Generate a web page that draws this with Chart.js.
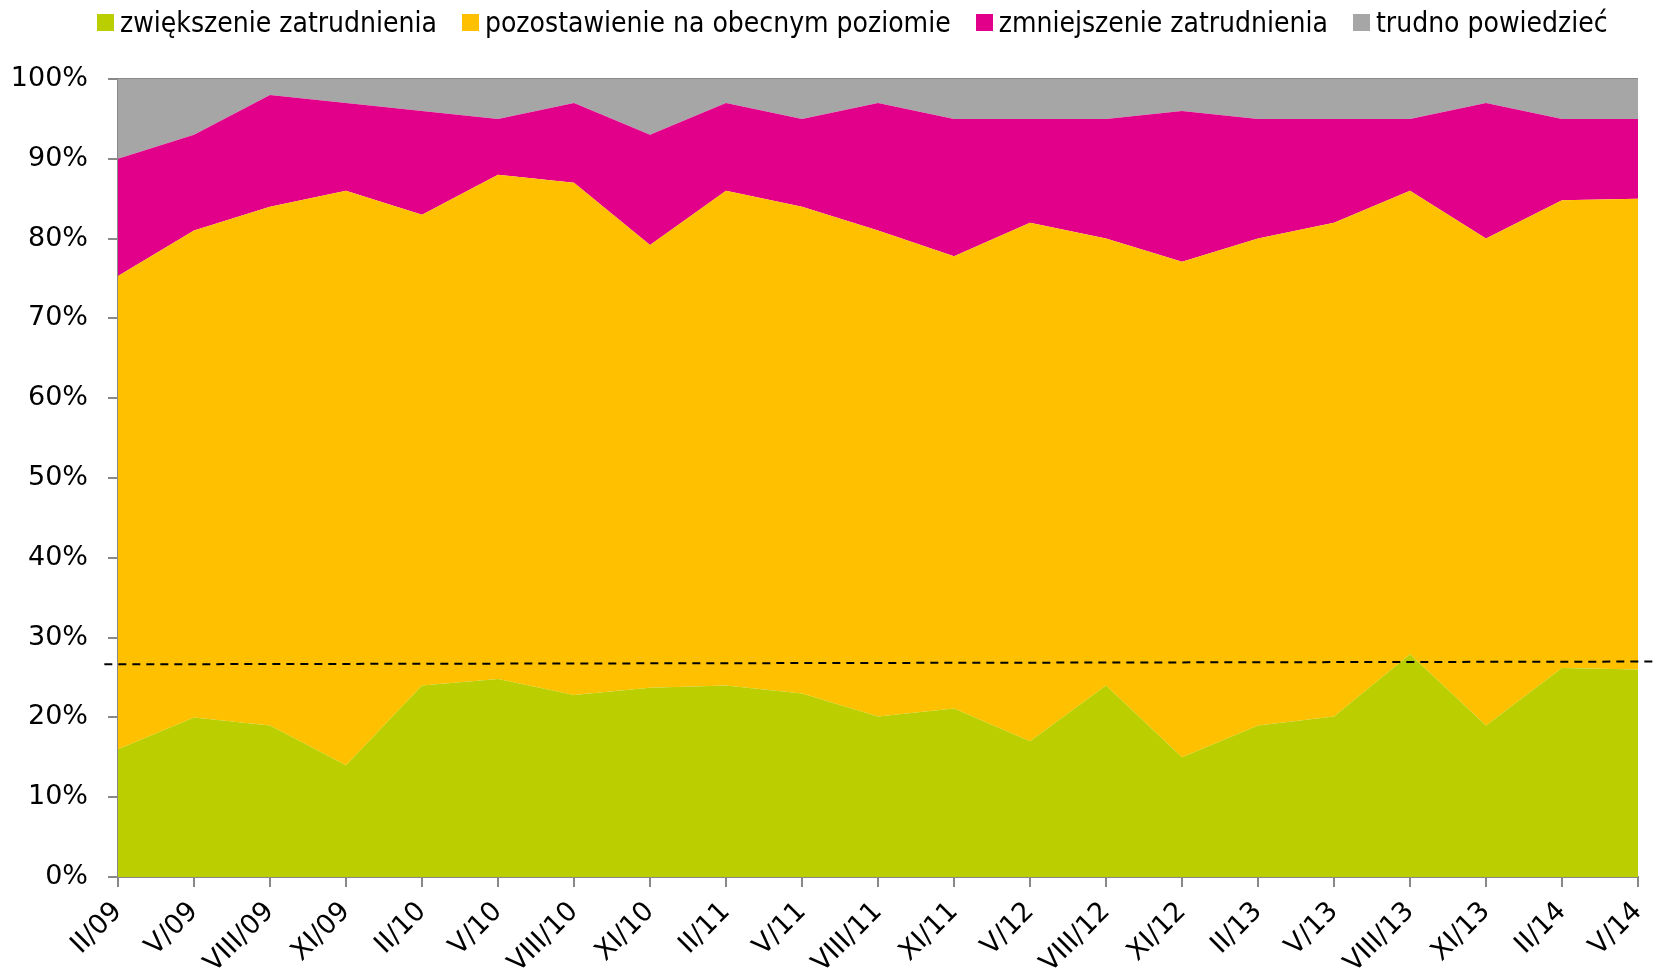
<!DOCTYPE html>
<html>
<head>
<meta charset="utf-8">
<script src="https://cdn.jsdelivr.net/npm/chart.js@4"></script>
<style>
  body { margin: 0; background: #fff; }
  #wrap { position: relative; width: 1653px; height: 980px; }
  #legend {
    position: absolute; left: 97px; top: 4px; height: 36px;
    display: flex; align-items: center; gap: 25px;
    font-family: 'DejaVu Sans Condensed', 'DejaVu Sans', sans-serif;
    font-stretch: condensed; font-size: 28px; color: #000;
  }
  #legend .item { display: flex; align-items: center; gap: 6px; white-space: nowrap; }
  #legend .box { width: 17px; height: 17px; }
</style>
</head>
<body>
<div id="wrap">
  <canvas id="chart"></canvas>
  <div id="legend"></div>
</div>
<script>
const labels = ["II/09", "V/09", "VIII/09", "XI/09", "II/10", "V/10", "VIII/10", "XI/10",
  "II/11", "V/11", "VIII/11", "XI/11", "V/12", "VIII/12", "XI/12", "II/13", "V/13",
  "VIII/13", "XI/13", "II/14", "V/14"];

const seriesNames = ["zwiększenie zatrudnienia", "pozostawienie na obecnym poziomie",
  "zmniejszenie zatrudnienia", "trudno powiedzieć"];
const seriesColors = ["#BBCF00", "#FFC000", "#E2008A", "#A6A6A6"];

const increase = [16, 20, 19, 14, 24, 24.8, 22.8, 23.7, 24, 23, 20.1, 21.1, 17, 24, 15, 19, 20.1, 27.9, 19, 26.2, 26];
const keep = [59.3, 61, 65, 72, 59, 63.2, 64.2, 55.5, 62, 61, 60.9, 56.7, 65, 56, 62.1, 61, 61.9, 58.1, 61, 58.6, 59];
const decrease = [14.7, 12, 14, 11, 13, 7, 10, 13.8, 11, 11, 16, 17.2, 13, 15, 18.9, 15, 13, 9, 17, 10.2, 10];
const hardToSay = [10, 7, 2, 3, 4, 5, 3, 7, 3, 5, 3, 5, 5, 5, 4, 5, 5, 5, 3, 5, 5];

// linear trend of the first series, as drawn (slightly past both ends)
const trendX = [-0.18, 20.2];
const trendY = [26.65, 27.0];

const yTicks = [0, 10, 20, 30, 40, 50, 60, 70, 80, 90, 100];

const axisColor = "#898989";
const tickFont = { family: "'DejaVu Sans', sans-serif", size: 27 };

const values = [increase, keep, decrease, hardToSay];

const legendEl = document.getElementById("legend");
seriesNames.forEach((name, i) => {
  const item = document.createElement("div");
  item.className = "item";
  item.innerHTML = '<span class="box" style="background:' + seriesColors[i] + '"></span><span>' + name + "</span>";
  legendEl.appendChild(item);
});

const areaSets = values.map((v, i) => ({
  label: seriesNames[i],
  data: v,
  backgroundColor: seriesColors[i],
  borderColor: seriesColors[i],
  borderWidth: 0,
  pointRadius: 0,
  tension: 0,
  fill: i === 0 ? "origin" : "-1",
}));

new Chart(document.getElementById("chart"), {
  type: "line",
  data: {
    labels: labels,
    datasets: [
      ...areaSets,
      {
        label: "trend",
        data: trendX.map((x, i) => ({ x: x, y: trendY[i] })),
        xAxisID: "xt",
        yAxisID: "yt",
        borderColor: "#000",
        borderWidth: 2,
        borderDash: [8, 6],
        pointRadius: 0,
        fill: false,
        clip: false,
        order: -1,
      },
    ],
  },
  options: {
    animation: false,
    responsive: true,
    maintainAspectRatio: false,
    layout: { padding: { top: 79, right: 15, left: 0, bottom: 0 } },
    plugins: {
      legend: { display: false },
      tooltip: { enabled: false },
    },
    scales: {
      x: {
        offset: false,
        grid: { drawOnChartArea: false, tickColor: axisColor, tickLength: 10, lineWidth: 2 },
        border: { color: axisColor, width: 2 },
        ticks: {
          autoSkip: false,
          maxRotation: 45,
          minRotation: 45,
          padding: 9,
          color: "#000",
          font: tickFont,
        },
        afterFit: (s) => {
          s.height = 103;
          s.paddingLeft = 0;
          s.paddingRight = 0;
        },
      },
      y: {
        stacked: true,
        min: 0,
        max: 100,
        z: 1,
        afterBuildTicks: (s) => { s.ticks = yTicks.map((v) => ({ value: v })); },
        grid: {
          color: (ctx) => (ctx.tick && ctx.tick.value === 100 ? axisColor : "rgba(0,0,0,0)"),
          tickColor: axisColor,
          tickLength: 10,
          lineWidth: 2,
        },
        border: { color: axisColor, width: 2 },
        ticks: {
          padding: 20,
          color: "#000",
          font: tickFont,
          callback: (v) => v + "%",
        },
        afterFit: (s) => { s.width = 118; },
      },
      xt: { type: "linear", display: false, min: 0, max: 20 },
      yt: { type: "linear", display: false, min: 0, max: 100 },
    },
  },
});
</script>
</body>
</html>
